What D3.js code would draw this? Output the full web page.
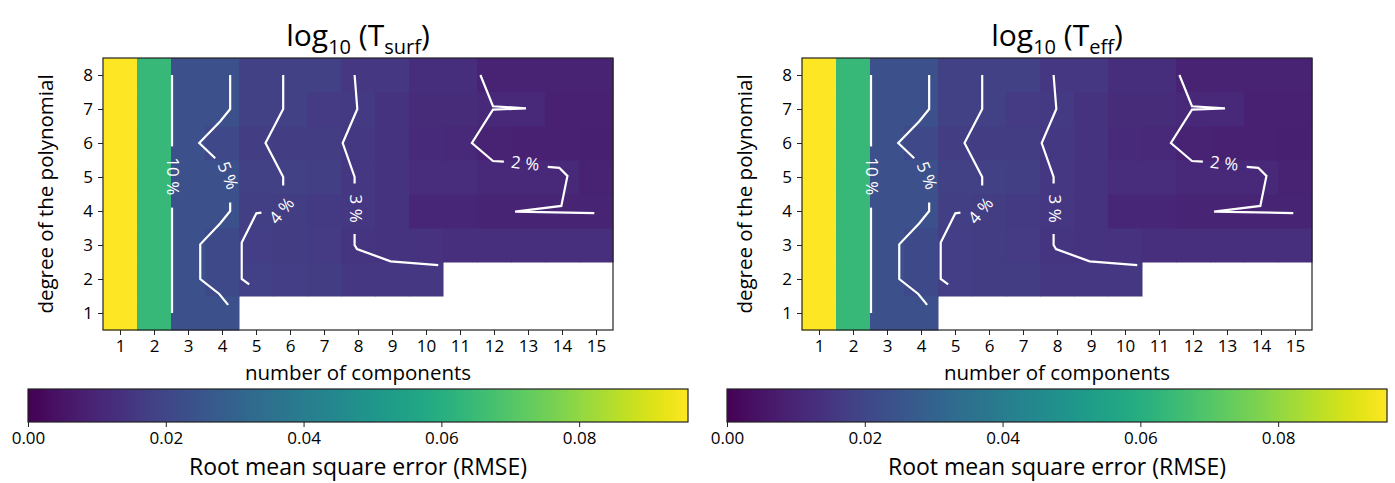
<!DOCTYPE html>
<html><head><meta charset="utf-8">
<script src="https://cdn.jsdelivr.net/npm/d3@7"></script>
<style>
body{margin:0;background:#fff}
text{font-family:"Open Sans",sans-serif;fill:#000}
</style>
</head><body>
<svg id="chart" width="1395" height="483"></svg>
<script>
// ---- data ----
const components = [1,2,3,4,5,6,7,8,9,10,11,12,13,14,15];
const degrees = [1,2,3,4,5,6,7,8];
const cbarTicks = [0.00,0.02,0.04,0.06,0.08];
const rmseMax = 0.0958;
// rows: degree 1 .. 8 ; columns: components 1 .. 15 (null = not computed)
const rmseSurf = [
  [0.0958,0.064,0.0235,0.0235,null,null,null,null,null,null,null,null,null,null,null],
  [0.0958,0.064,0.0235,0.0212,0.0182,0.0175,0.0170,0.0152,0.0150,0.0150,null,null,null,null,null],
  [0.0958,0.064,0.0235,0.0212,0.0175,0.0170,0.0168,0.0148,0.0142,0.0138,0.0130,0.0130,0.0130,0.0130,0.0130],
  [0.0958,0.064,0.0235,0.0235,0.0178,0.0170,0.0162,0.0150,0.0142,0.0102,0.0102,0.0096,0.0096,0.0096,0.0096],
  [0.0958,0.064,0.0235,0.0235,0.0185,0.0185,0.0178,0.0152,0.0142,0.0122,0.0122,0.0112,0.0112,0.0112,0.0090],
  [0.0958,0.064,0.0235,0.0208,0.0170,0.0170,0.0170,0.0155,0.0142,0.0114,0.0106,0.0092,0.0088,0.0088,0.0085],
  [0.0958,0.064,0.0235,0.0235,0.0185,0.0185,0.0165,0.0162,0.0142,0.0117,0.0117,0.0110,0.0110,0.0088,0.0088],
  [0.0958,0.064,0.0235,0.0235,0.0185,0.0185,0.0185,0.0152,0.0152,0.0127,0.0127,0.0093,0.0093,0.0093,0.0093]
];
const rmseEff = [
  [0.0958,0.064,0.0235,0.0235,null,null,null,null,null,null,null,null,null,null,null],
  [0.0958,0.064,0.0235,0.0212,0.0175,0.0170,0.0170,0.0152,0.0150,0.0150,null,null,null,null,null],
  [0.0958,0.064,0.0235,0.0212,0.0175,0.0170,0.0168,0.0148,0.0142,0.0138,0.0130,0.0130,0.0130,0.0130,0.0130],
  [0.0958,0.064,0.0235,0.0235,0.0178,0.0170,0.0162,0.0150,0.0142,0.0102,0.0102,0.0096,0.0096,0.0096,0.0096],
  [0.0958,0.064,0.0235,0.0235,0.0185,0.0185,0.0178,0.0152,0.0142,0.0122,0.0122,0.0112,0.0112,0.0112,0.0090],
  [0.0958,0.064,0.0235,0.0208,0.0170,0.0170,0.0170,0.0155,0.0142,0.0114,0.0106,0.0092,0.0088,0.0088,0.0085],
  [0.0958,0.064,0.0235,0.0235,0.0185,0.0185,0.0165,0.0162,0.0142,0.0117,0.0117,0.0110,0.0110,0.0088,0.0088],
  [0.0958,0.064,0.0235,0.0235,0.0185,0.0185,0.0185,0.0152,0.0152,0.0127,0.0127,0.0093,0.0093,0.0093,0.0093]
];
// contour polylines in data coordinates [component, degree] (gaps where labels sit)
const contour10 = [[[2.53,8],[2.53,5.9]],[[2.53,4.1],[2.53,1]]];
const contour5  = [[[4.24,8],[4.24,7],[3.95,6.64],[3.33,6.0],[3.80,5.55]],
                   [[4.24,4.25],[4.24,4.0],[3.95,3.64],[3.36,3.02],[3.36,2.0],[3.92,1.56],[4.18,1.24]]];
const contour4  = [[[5.80,8],[5.80,7],[5.28,6],[5.80,5],[5.80,4.75]],
                   [[5.16,3.95],[5.01,3.93],[4.58,3.07],[4.58,2.0],[4.80,1.84]]];
const contour3  = [[[7.90,8],[7.98,7],[7.55,6],[7.90,5],[7.90,4.81]],
                   [[7.90,3.32],[7.90,3.0],[7.97,2.88],[8.96,2.52],[10.36,2.41]]];
const contour2  = [[[11.60,8],[11.97,7.08],[12.94,7.02],[11.97,6.98],[11.35,6.0],[11.97,5.47],[12.29,5.45]],
                   [[13.58,5.30],[13.92,5.27],[14.16,5.03],[13.98,4.15],[12.62,3.98],[14.95,3.94]]];
const contourLabels = [
  {text:"10 %", x:2.57, y:5.02, angle:90},
  {text:"5 %",  x:4.19, y:5.05, angle:68},
  {text:"4 %",  x:5.74, y:4.02, angle:-50},
  {text:"3 %",  x:7.97, y:4.07, angle:90},
  {text:"2 %",  x:12.92, y:5.42, angle:6}
];
const panels = [
  {title:["log","10"," (T","surf",")"], grid:rmseSurf, left:103, cbarLeft:28},
  {title:["log","10"," (T","eff",")"], grid:rmseEff, left:802, cbarLeft:727}
];

// ---- drawing ----
const svg = d3.select("#chart");
const W = 510, H = 272, plotTop = 58;
const color = d3.scaleSequential(d3.interpolateViridis).domain([0, rmseMax]);
const defs = svg.append("defs");
const grad = defs.append("linearGradient").attr("id","vir").attr("x1","0%").attr("x2","100%");
d3.range(0,1.0001,0.02).forEach(t=>grad.append("stop").attr("offset",(t*100)+"%").attr("stop-color",d3.interpolateViridis(t)));

panels.forEach(p=>{
  const g = svg.append("g").attr("transform",`translate(${p.left},${plotTop})`);
  const x = d3.scaleLinear().domain([0.5,15.5]).range([0,W]);
  const y = d3.scaleLinear().domain([0.5,8.5]).range([H,0]);
  const cells = [];
  p.grid.forEach((row,i)=>row.forEach((v,j)=>{ if(v!==null) cells.push({c:components[j], d:degrees[i], v}); }));
  g.selectAll("rect.cell").data(cells).join("rect").attr("class","cell")
    .attr("x",d=>x(d.c-0.5)).attr("y",d=>y(d.d+0.5))
    .attr("width",d=>x(d.c+0.5)-x(d.c-0.5)+0.5).attr("height",d=>y(d.d-0.5)-y(d.d+0.5)+0.5)
    .attr("fill",d=>color(d.v));
  const line = d3.line().x(d=>x(d[0])).y(d=>y(d[1]));
  [contour10,contour5,contour4,contour3,contour2].forEach(c=>{
    g.selectAll(null).data(c).join("path").attr("d",line)
      .attr("fill","none").attr("stroke","#fff").attr("stroke-width",2.2).attr("stroke-linejoin","miter");
  });
  g.selectAll("text.cl").data(contourLabels).join("text").attr("class","cl")
    .attr("transform",d=>`translate(${x(d.x)},${y(d.y)}) rotate(${d.angle})`)
    .attr("text-anchor","middle").attr("dominant-baseline","central")
    .style("fill","#fff").style("font-size","17px").text(d=>d.text);
  g.append("rect").attr("width",W).attr("height",H).attr("fill","none").attr("stroke","#222").attr("stroke-width",1.2);
  const xa = g.append("g").attr("transform",`translate(0,${H})`)
    .call(d3.axisBottom(x).tickValues(components).tickSize(5).tickPadding(5).tickFormat(d3.format("d")));
  const ya = g.append("g").call(d3.axisLeft(y).tickValues(degrees).tickSize(5).tickPadding(5).tickFormat(d3.format("d")));
  [xa,ya].forEach(a=>{a.select(".domain").remove(); a.selectAll("text").style("font-size","17px").style("font-family","'Open Sans',sans-serif"); a.selectAll("line").attr("stroke","#222");});
  g.append("text").attr("x",W/2).attr("y",H+50).attr("text-anchor","middle").style("font-size","20.5px").text("number of components");
  g.append("text").attr("transform",`translate(-50,${H/2}) rotate(-90)`).attr("text-anchor","middle").style("font-size","20.5px").text("degree of the polynomial");
  // title
  const t = g.append("text").attr("x",W/2).attr("y",-12).attr("text-anchor","middle").style("font-size","30px");
  t.append("tspan").text(p.title[0]);
  t.append("tspan").attr("dy",8).style("font-size","20px").text(p.title[1]);
  t.append("tspan").attr("dy",-8).text(p.title[2]);
  t.append("tspan").attr("dy",8).style("font-size","20px").text(p.title[3]);
  t.append("tspan").attr("dy",-8).text(p.title[4]);
  // colorbar
  const cw = 660, ch = 33, ctop = 389;
  const cb = svg.append("g").attr("transform",`translate(${p.cbarLeft},${ctop})`);
  const cx = d3.scaleLinear().domain([0,rmseMax]).range([0,cw]);
  cb.append("rect").attr("width",cw).attr("height",ch).attr("fill","url(#vir)").attr("stroke","#222").attr("stroke-width",1.2);
  const ca = cb.append("g").attr("transform",`translate(0,${ch})`)
    .call(d3.axisBottom(cx).tickValues(cbarTicks).tickSize(5).tickPadding(5).tickFormat(d3.format(".2f")));
  ca.select(".domain").remove(); ca.selectAll("text").style("font-size","17px").style("font-family","'Open Sans',sans-serif"); ca.selectAll("line").attr("stroke","#222");
  cb.append("text").attr("x",cw/2).attr("y",ch+53).attr("text-anchor","middle").style("font-size","23px").text("Root mean square error (RMSE)");
});
</script>
</body></html>
